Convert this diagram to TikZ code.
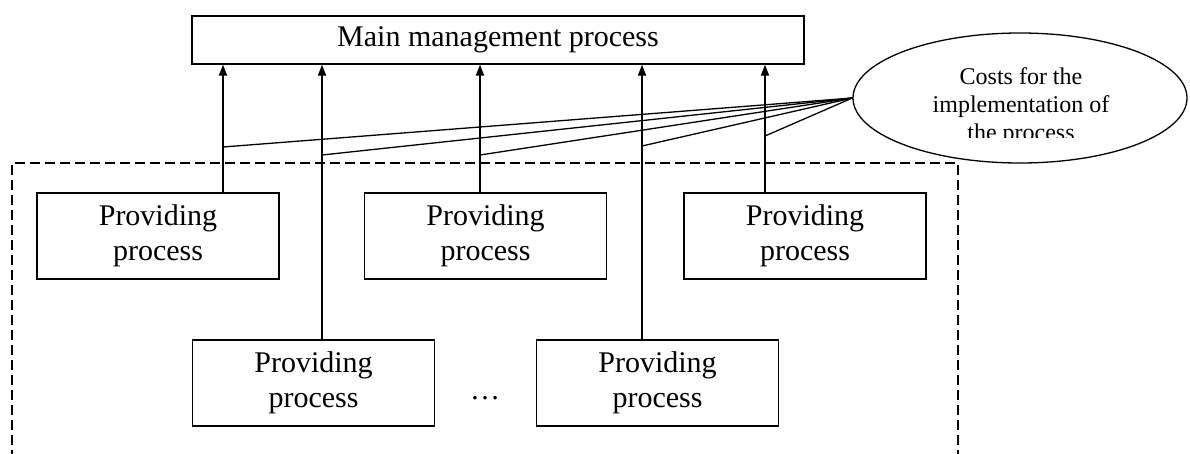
\documentclass[tikz,border=0pt]{standalone}
\usepackage{fontspec}
\setmainfont{Liberation Serif}
\usetikzlibrary{arrows.meta,shapes.geometric}
\tikzset{
  procbox/.style={draw, line width=1.3pt, minimum width=242pt, minimum height=86pt,
    align=center, inner sep=0pt, font=\fontsize{30}{35}\selectfont},
  uparrow/.style={line width=1.8pt, -{Triangle[length=11pt,width=8pt]}},
  costline/.style={line width=1.3pt}
}
\begin{document}
\begin{tikzpicture}[x=1pt,y=-1pt]
\useasboundingbox (0,0) rectangle (1190,453);
\node[draw, line width=1.3pt, minimum width=612pt, minimum height=48pt, inner sep=0pt,
  font=\fontsize{30}{35}\selectfont] (main) at (498,40) {Main management process};
\node[procbox] (p1) at (158,236) {Providing\\process};
\node[procbox] (p2) at (485.5,236) {Providing\\process};
\node[procbox] (p3) at (805,236) {Providing\\process};
\node[procbox] (p4) at (313.5,383) {Providing\\process};
\node[procbox] (p5) at (657.5,383) {Providing\\process};
\node[font=\fontsize{30}{35}\selectfont, anchor=base] (dots) at (485,399) {\ldots};
\draw[line width=1.3pt, dash pattern=on 10pt off 5pt] (12,460) -- (12,163) -- (958,163) -- (958,460);
\node[draw, ellipse, line width=1.3pt, minimum width=334pt, minimum height=130pt, inner sep=0pt] (cost) at (1020,98) {};
\begin{scope}
  \clip (860,40) rectangle (1180,137);
  \node[align=center, font=\fontsize{24}{28}\selectfont] (costtext) at (1021,107) {Costs for the\\implementation of\\the process};
\end{scope}
\coordinate (h1) at (223,147);
\coordinate (h2) at (322,155);
\coordinate (h3) at (480,155);
\coordinate (h4) at (642,146);
\coordinate (h5) at (765,136);
\foreach \h/\p in {h1/p1,h2/p4,h3/p2,h4/p5,h5/p3} {
  \draw[uparrow] (\h |- \p.north) -- (\h |- main.south);
  \draw[costline] (cost.west) -- (\h);
}
\end{tikzpicture}
\end{document}
